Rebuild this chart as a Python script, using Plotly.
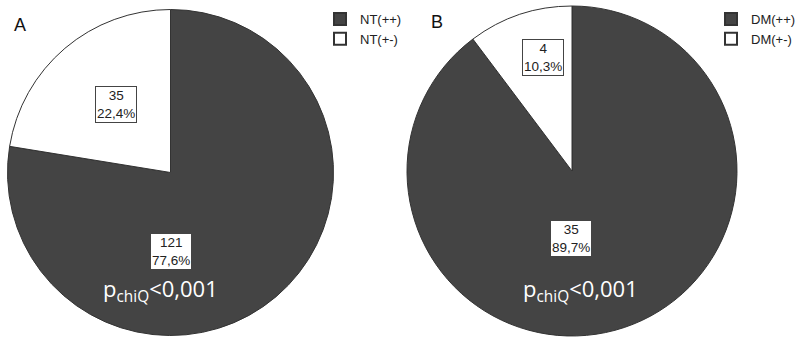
import plotly.graph_objects as go

labels_a = ["NT(++)", "NT(+-)"]
values_a = [121, 35]
pct_a = ["77,6%", "22,4%"]
labels_b = ["DM(++)", "DM(+-)"]
values_b = [35, 4]
pct_b = ["89,7%", "10,3%"]
panel_letters = ["A", "B"]
p_text = "p<sub>chiQ</sub><0,001"

W, H = 800, 337
DARK = "#444444"
colors = [DARK, "#ffffff"]

def px(x):
    return x / W

def py(y):
    return 1 - y / H

fig = go.Figure()
fig.add_trace(go.Pie(
    labels=labels_a, values=values_a, sort=False, direction="clockwise", rotation=0,
    marker=dict(colors=colors, line=dict(color="#333333", width=1)),
    textinfo="none", hoverinfo="label+value+percent",
    domain=dict(x=[px(7.5), px(333.5)], y=[py(335.5), py(9.5)]),
    legend="legend",
))
fig.add_trace(go.Pie(
    labels=labels_b, values=values_b, sort=False, direction="clockwise", rotation=0,
    marker=dict(colors=colors, line=dict(color="#333333", width=1)),
    textinfo="none", hoverinfo="label+value+percent",
    domain=dict(x=[px(407), px(737)], y=[py(336), py(6)]),
    legend="legend2",
))

box_font = dict(family="Liberation Sans, Arial", size=13.5, color="#222222")
ann = []
def box(x, y, v, p):
    ann.append(dict(x=px(x), y=py(y), xref="paper", yref="paper", showarrow=False,
                    text=f"{v}<br>{p}", font=box_font, bgcolor="white",
                    bordercolor="#444444", borderwidth=1, borderpad=1,
                    xanchor="center", yanchor="middle", align="center"))

box(116, 104, values_a[1], pct_a[1])
box(171, 251, values_a[0], pct_a[0])
box(543, 58, values_b[1], pct_b[1])
box(571, 239, values_b[0], pct_b[0])

for x in (160, 580):
    ann.append(dict(x=px(x), y=py(290), xref="paper", yref="paper", showarrow=False,
                    text=p_text, font=dict(family="Open Sans", size=22, color="white"),
                    xanchor="center", yanchor="middle"))

ann.append(dict(x=px(20), y=py(25), xref="paper", yref="paper", showarrow=False,
                text=panel_letters[0], font=dict(family="Liberation Sans, Arial", size=18, color="#111"),
                xanchor="center", yanchor="middle"))
ann.append(dict(x=px(437), y=py(22), xref="paper", yref="paper", showarrow=False,
                text=panel_letters[1], font=dict(family="Liberation Sans, Arial", size=18, color="#111"),
                xanchor="center", yanchor="middle"))

leg_font = dict(family="Liberation Sans, Arial", size=13, color="#222222")
fig.update_layout(
    width=W, height=H, margin=dict(l=0, r=0, t=0, b=0, autoexpand=False),
    paper_bgcolor="white", plot_bgcolor="white",
    annotations=ann,
    legend=dict(x=px(320), y=py(4), xanchor="left", yanchor="top", font=leg_font,
                bgcolor="rgba(0,0,0,0)", tracegroupgap=0, itemsizing="constant"),
    legend2=dict(x=px(711), y=py(4), xanchor="left", yanchor="top", font=leg_font,
                 bgcolor="rgba(0,0,0,0)", tracegroupgap=0, itemsizing="constant"),
)

fig.write_html("out.html")
